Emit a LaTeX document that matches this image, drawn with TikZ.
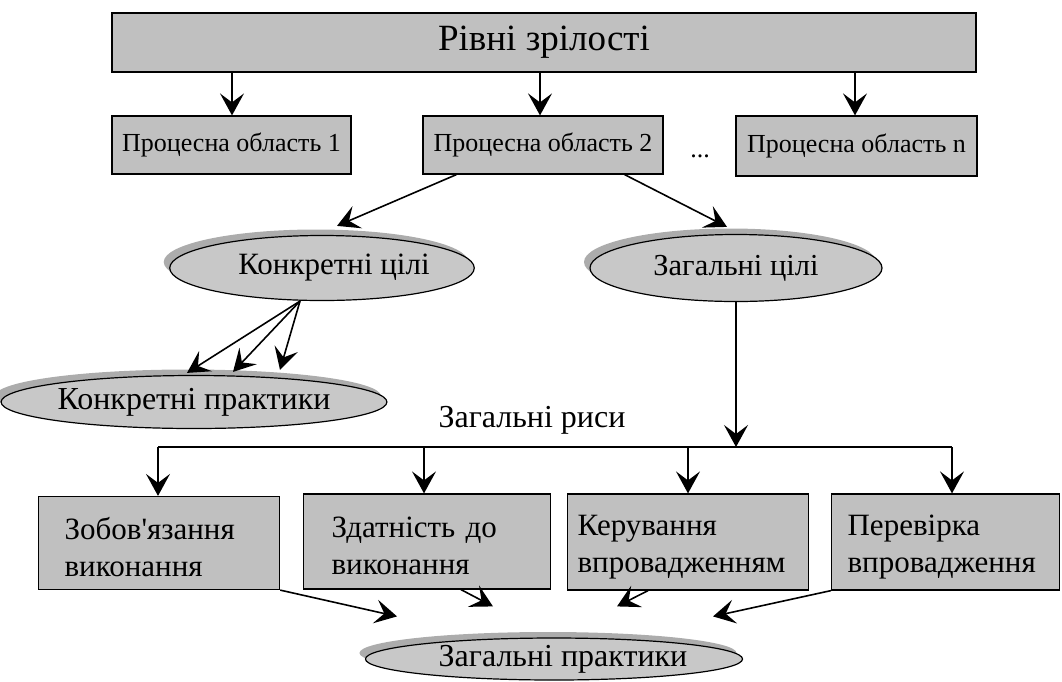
\documentclass[tikz,border=0pt]{standalone}
\usepackage{fontspec}
\setmainfont{Liberation Serif}
\newfontfamily\aposfont{Liberation Serif}
\usetikzlibrary{arrows.meta,shapes.geometric,shadows,calc}
\definecolor{boxgray}{RGB}{192,192,192}
\definecolor{ellgray}{RGB}{200,200,200}
\definecolor{shgray}{RGB}{172,172,172}
\tikzset{
  box/.style={draw=black, line width=1.2pt, fill=boxgray, inner sep=0pt},
  ell/.style={ellipse, draw=black, line width=1.2pt, fill=ellgray, inner sep=0pt,
    drop shadow={shadow xshift=-6pt, shadow yshift=6pt, fill=shgray, opacity=1}},
  arr/.style={line width=1.6pt, -{Stealth[length=22pt,width=24pt,inset=9pt]}},
  ln/.style={line width=1.6pt},
  bottxt/.style={box, align=left, anchor=west, font=\fontsize{31}{37}\selectfont},
}
\begin{document}
\begin{tikzpicture}[x=1pt,y=-1pt]
\useasboundingbox (0,0) rectangle (1062,681);
% top
\node[box, minimum width=864pt, minimum height=59pt, font=\fontsize{37}{40}\selectfont] (top) at (544,42.5) {Рівні зрілості};
\node[box, minimum width=239pt, minimum height=58pt, font=\fontsize{26}{30}\selectfont] (p1) at (231.5,145) {Процесна область 1};
\node[box, minimum width=240pt, minimum height=58pt, font=\fontsize{26}{30}\selectfont] (p2) at (543,145) {\raisebox{4pt}{Процесна область 2}};
\node[box, minimum width=241pt, minimum height=60pt, font=\fontsize{26}{30}\selectfont] (p3) at (856.5,146) {\raisebox{-3pt}{Процесна область n}};
\node[font=\fontsize{26}{30}\selectfont] (dots) at (700,156) {...};
\draw[arr] (top.south -| 232,0) -- (p1.north -| 232,0);
\draw[arr] (top.south -| 540,0) -- (p2.north -| 540,0);
\draw[arr] (top.south -| 855,0) -- (p3.north -| 855,0);
% ellipses
\node[ell, minimum width=281pt, minimum height=65pt, font=\fontsize{31}{33}\selectfont] (e1) at (322,268) {\hspace*{24pt}Конкретні цілі};
\node[ell, minimum width=292pt, minimum height=67pt, font=\fontsize{30.5}{33}\selectfont] (e2) at (736,268) {Загальні цілі};
\node[ell, minimum width=362pt, minimum height=53pt, font=\fontsize{32}{34}\selectfont] (e3) at (194,402) {Конкретні практики};
\draw[arr] ($(p2.south west)+(34,0)$) -- ($(e1.north)+(15,-9)$);
\draw[arr] ($(p2.south east)+(-39,0)$) -- ($(e2.north)+(-9,-7)$);
\coordinate (e1s) at ($(e1.south)+(-22,0)$);
\draw[arr] (e1s) -- ($(e3.north)+(-7,-2)$);
\draw[arr] (e1s) -- ($(e3.north)+(39,-3)$);
\draw[arr] (e1s) -- ($(e3.north)+(86,-5)$);
% common features
\node[font=\fontsize{32}{34}\selectfont] (zr) at (532,420) {Загальні риси};
\coordinate (hl) at (158,447);
\coordinate (hr) at (952,447);
\coordinate (hm) at (736,447);
\draw[ln] (hl) -- (hr);
\draw[arr] (e2.south) -- (hm);
% bottom boxes
\node[bottxt, minimum width=241pt, minimum height=93pt, text width=189pt, inner xsep=26pt] (bA) at (38,543) {\rule{0pt}{31pt}Зобов{\aposfont'}язання\\виконання};
\node[bottxt, minimum width=247pt, minimum height=95pt, text width=191pt, inner xsep=28pt] (bB) at (303,541.5) {\rule{0pt}{30pt}Здатність до\\виконання};
\node[bottxt, minimum width=241pt, minimum height=96pt, text width=221pt, inner xsep=10pt] (bC) at (567,542) {\rule{0pt}{31pt}Керування\\впровадженням};
\node[bottxt, minimum width=228pt, minimum height=96pt, text width=196pt, inner xsep=16pt] (bD) at (831,542) {\rule{0pt}{31pt}Перевірка\\впровадження};
\coordinate (c2) at (424,447);
\coordinate (c3) at (688,447);
\coordinate (c4) at (952,447);
\draw[arr] (hl) -- (hl |- bA.north);
\draw[arr] (c2) -- (c2 |- bB.north);
\draw[arr] (c3) -- (c3 |- bC.north);
\draw[arr] (c4) -- (c4 |- bD.north);
% bottom ellipse
\node[ell, minimum width=362pt, minimum height=42pt, font=\fontsize{32}{34}\selectfont] (e4) at (554,659) {\hspace*{18pt}Загальні практики};
\draw[arr] (bA.south east) -- ($(e4.north)+(-157,-21)$);
\draw[arr] ($(bB.south west)+(158,0)$) -- ($(e4.north)+(-61,-31)$);
\draw[arr] ($(bC.south west)+(81,0)$) -- ($(e4.north)+(63,-31)$);
\draw[arr] (bD.south west) -- ($(e4.north)+(159,-21)$);
\end{tikzpicture}
\end{document}
